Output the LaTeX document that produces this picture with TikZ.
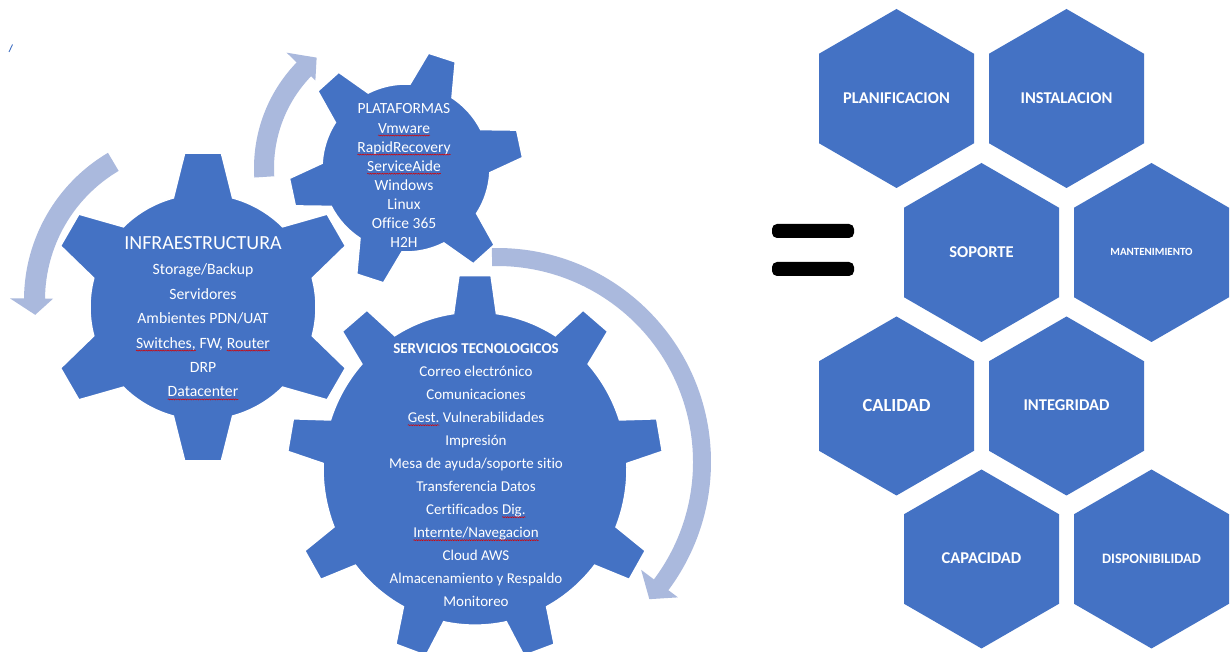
\documentclass[tikz,border=0pt]{standalone}
\usepackage{fontspec}
\setmainfont{Carlito}[Ligatures=NoCommon]
\usetikzlibrary{decorations.pathmorphing}
\definecolor{gblue}{HTML}{4472C4}
\definecolor{arrowc}{HTML}{AAB9DD}
\newcommand\spell[1]{\tikz[baseline=(s.base)]{\node[inner sep=0pt,outer sep=0pt] (s) {#1};
  \draw[red!85!black, line width=0.5pt, decorate, decoration={snake, amplitude=0.55pt, segment length=2.4pt}]
    ([yshift=-2.4pt]s.base west) -- ([yshift=-2.4pt]s.base east);}}
\tikzset{
  gearst/.style={fill=gblue, draw=white, line width=1.5pt},
  arrowst/.style={fill=arrowc},
  hexst/.style={fill=gblue},
  htext/.style={text=white, inner sep=0pt, anchor=center},
  gtext/.style={text=white, inner sep=0pt, anchor=base},
  eqbar/.style={fill=black, rounded corners=5pt, minimum width=82pt, minimum height=14pt, inner sep=0pt},
}
% [yscale] cx cy n rot rin rout tiphalf basehalf
\newcommand\drawgear[9][1]{%
  \begin{scope}[shift={(#2,#3)}, yscale=#1]
    \fill[gearst] ({#5-#9}:#6pt)
      \foreach \k [evaluate=\k as \a using {#5+(\k-1)*360/#4}] in {1,...,#4}{
        -- ({\a-#8}:#7pt) -- ({\a+#8}:#7pt) -- ({\a+#9}:#6pt)
        arc[start angle={\a+#9}, end angle={\a+360/#4-#9}, radius=#6pt]
      } -- cycle;
  \end{scope}}
% cx cy rin rout a0 a1 headin headout tipangle
\newcommand\carrow[9]{%
  \pgfmathsetmacro\rmid{(#3+#4)/2}%
  \begin{scope}[shift={(#1,#2)}]
    \fill[arrowst] (#5:#4pt) arc[start angle=#5, end angle=#6, radius=#4pt]
      -- (#6:#8pt) -- (#9:\rmid pt) -- (#6:#7pt) -- (#6:#3pt)
      arc[start angle=#6, end angle=#5, radius=#3pt] -- cycle;
  \end{scope}}
% name cx cy size text
\newcommand\hexa[5]{%
  \begin{scope}[shift={(#2,#3)}]
    \fill[hexst] (90:89.5pt) -- (150:89.5pt) -- (210:89.5pt) -- (270:89.5pt) -- (330:89.5pt) -- (30:89.5pt) -- cycle;
  \end{scope}
  \node[htext, font=\fontsize{#4}{#4}\selectfont\bfseries] (#1) at (#2,{#3+0.5}) {#5};}
\begin{document}
\begin{tikzpicture}[x=1pt,y=1pt]
\useasboundingbox (0,0) rectangle (1230,652);
\clip (0,0) rectangle (1230,652);
\fill[white] (0,0) rectangle (1230,652);

% stray mark
\draw[gblue, line width=0.9pt] (9,600) -- (12.5,607.5);

% arrows
\carrow{497}{190}{196}{214}{91.4}{-36.8}{180}{226}{-42}
\carrow{195}{352}{150}{171}{120.6}{179.5}{142}{185}{185.3}
\carrow{406}{484}{132}{152}{183.6}{136}{126}{166}{129}

% gears
\drawgear[1.03]{475}{183.4}{9}{90}{152}{188}{4.9}{8.1}
\drawgear{203}{345}{6}{90}{113}{155}{6.8}{15.2}
\drawgear{406}{484}{6}{12}{84}{117}{6.9}{15.2}

% INFRAESTRUCTURA text
\begin{scope}[font=\fontsize{15.7}{18}\selectfont]
\node[gtext, font=\fontsize{20}{22}\selectfont] (inf0) at (203,402.6) {INFRAESTRUCTURA};
\node[gtext] (inf1) at (203,377) {Storage/Backup};
\node[gtext] (inf2) at (203,352.6) {Servidores};
\node[gtext] (inf3) at (203,328.2) {Ambientes PDN/UAT};
\node[gtext] (inf4) at (203,303.8) {\spell{Switches,} FW, \spell{Router}};
\node[gtext] (inf5) at (203,279.4) {DRP};
\node[gtext] (inf6) at (203,255) {\spell{Datacenter}};
\end{scope}

% PLATAFORMAS text
\begin{scope}[font=\fontsize{15.5}{18}\selectfont]
\node[gtext] (pl0) at (404,538) {PLATAFORMAS};
\node[gtext] (pl1) at (404,518.9) {\spell{Vmware}};
\node[gtext] (pl2) at (404,499.8) {\spell{RapidRecovery}};
\node[gtext] (pl3) at (404,480.7) {\spell{ServiceAide}};
\node[gtext] (pl4) at (404,461.6) {Windows};
\node[gtext] (pl5) at (404,442.5) {Linux};
\node[gtext] (pl6) at (404,423.4) {Office 365};
\node[gtext] (pl7) at (404,404.3) {H2H};
\end{scope}

% SERVICIOS text
\begin{scope}[font=\fontsize{15}{18}\selectfont]
\node[gtext, font=\fontsize{15}{18}\selectfont\bfseries] (sv0) at (476,298.2) {SERVICIOS TECNOLOGICOS};
\node[gtext] (sv1) at (476,275.2) {Correo electrónico};
\node[gtext] (sv2) at (476,252.2) {Comunicaciones};
\node[gtext] (sv3) at (476,229.2) {\spell{Gest.} Vulnerabilidades};
\node[gtext] (sv4) at (476,206.2) {Impresión};
\node[gtext] (sv5) at (476,183.2) {Mesa de ayuda/soporte sitio};
\node[gtext] (sv6) at (476,160.2) {Transferencia Datos};
\node[gtext] (sv7) at (476,137.2) {Certificados \spell{Dig.}};
\node[gtext] (sv8) at (476,114.2) {\spell{Internte/Navegacion}};
\node[gtext] (sv9) at (476,91.2) {Cloud AWS};
\node[gtext] (sv10) at (476,68.2) {Almacenamiento y Respaldo};
\node[gtext] (sv11) at (476,45.2) {Monitoreo};
\end{scope}

% equals sign
\node[eqbar] (eqa) at (813,421) {};
\node[eqbar] (eqb) at (813,383) {};

% hexagons
\hexa{plan}{896.5}{553.5}{16.5}{PLANIFICACION}
\hexa{inst}{1066.5}{553.5}{16.5}{INSTALACION}
\hexa{sop}{981.5}{399.5}{16.5}{SOPORTE}
\hexa{mant}{1151.5}{399.5}{11}{MANTENIMIENTO}
\hexa{cal}{896.5}{246}{18.5}{CALIDAD}
\hexa{integ}{1066.5}{246}{16.5}{INTEGRIDAD}
\hexa{cap}{981.5}{93}{16.5}{CAPACIDAD}
\hexa{disp}{1151.5}{93}{14.4}{DISPONIBILIDAD}
\end{tikzpicture}
\end{document}
